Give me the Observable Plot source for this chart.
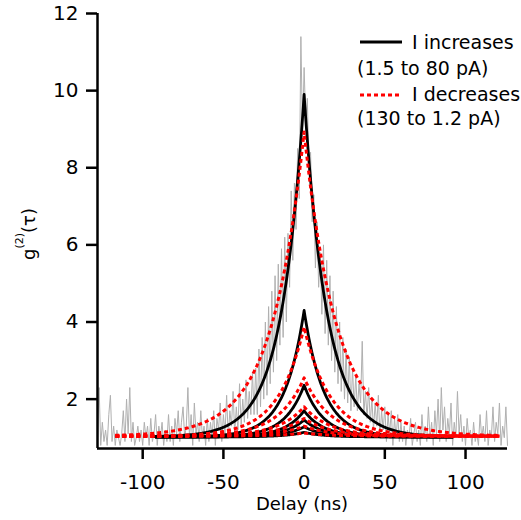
<!DOCTYPE html>
<html>
<head>
<meta charset="utf-8">
<script src="https://cdn.jsdelivr.net/npm/d3@7"></script>
<script src="https://cdn.jsdelivr.net/npm/@observablehq/plot@0.6"></script>
<style>
  html, body { margin: 0; padding: 0; background: white; }
</style>
</head>
<body>
<div id="chart"></div>
<script>
// ---- data ----
const delayStart = -128; // ns, first bin of the raw histogram (1 ns bins)
const grayValues = [
  1.0, 2.3, 0.8, 1.4, 0.9, 1.2, 0.8, 1.6, 2.1, 0.9, 1.3, 0.8, 1.2, 1.0, 0.8, 1.1, 1.7, 0.9, 2.0, 1.1,
  2.3, 0.9, 1.4, 0.8, 1.0, 1.3, 0.9, 1.2, 0.8, 1.4, 1.0, 1.3, 0.8, 1.5, 0.9, 1.1, 1.6, 0.8, 1.3, 1.0,
  1.4, 0.8, 1.2, 0.9, 1.6, 0.9, 1.3, 0.8, 1.5, 1.1, 1.7, 0.9, 1.4, 1.8, 1.0, 1.3, 2.3, 1.0, 1.6, 0.8,
  1.9, 1.1, 1.4, 0.9, 1.7, 1.0, 1.3, 0.8,
  1.5, 0.9, 1.4, 1.0, 1.7, 0.8, 1.5, 1.2, 1.9, 0.9, 1.6, 1.1, 2.1, 1.0, 1.7, 1.3, 2.2, 1.1, 1.8, 1.2,
  2.4, 1.3, 2.0, 1.4, 2.5, 1.5, 2.2, 1.6, 2.7, 1.6,
  2.8, 1.6, 3.3, 1.8, 3.6, 2.0, 4.0, 2.1, 4.4, 2.4, 4.8, 2.7, 5.2, 3.0, 5.5, 3.4, 5.9, 3.6, 6.2, 4.0,
  6.3, 4.9, 7.4, 5.6, 7.6, 6.4, 8.5, 7.2, 11.4, 8.9, 10.6, 9.2, 9.8, 7.9, 8.4, 6.6, 7.3, 5.4, 6.6, 4.9, 5.8,
  4.2, 6.0, 3.7, 5.6, 3.4, 5.2, 3.0, 4.8, 2.7, 4.4, 2.4, 4.0, 2.2, 3.6, 2.0, 3.3, 1.9, 3.1, 1.7, 2.8,
  1.8, 2.6, 1.7, 2.4, 1.9, 3.5, 1.6, 2.2, 1.5, 2.3, 1.4, 2.0, 1.2, 1.9, 1.3, 2.1, 1.0, 1.7, 1.2, 1.8,
  0.9, 1.6, 1.1, 1.7, 0.8, 1.5, 1.0, 1.6, 0.9, 1.4,
  0.9, 1.3, 0.8, 1.2, 1.0, 1.5, 0.8, 1.1, 1.4, 0.9, 1.2, 0.8, 1.6, 1.0, 1.3, 0.9, 1.8, 1.0, 1.4, 0.8,
  1.7, 1.1, 2.0, 0.9, 2.3, 1.2, 1.8, 0.9, 1.5, 1.1, 1.9, 0.8, 1.4, 1.0, 2.2, 1.1, 1.6, 0.9, 1.3, 0.8,
  1.5, 1.0, 1.2, 0.8, 1.4, 0.9, 1.1, 0.8, 1.6, 1.0, 1.3, 0.9, 1.7, 0.8, 1.2, 1.0, 1.8, 0.9, 1.4, 1.1,
  1.9, 0.8, 1.3, 1.0, 1.8, 0.8
];

// fitted curves g2(t) = base + (peak - base) * exp(-|t| / tau)
const blackPeaks = [9.9, 4.3, 2.36, 1.7, 1.46, 1.28, 1.14];
const blackTaus  = [14, 12, 12, 12, 12, 12, 12];
const blackBase  = 1.02;
const blackRange = [-92, 92];

const redPeaks = [8.93, 3.87, 2.55, 1.8, 1.5, 1.3, 1.12];
const redTaus  = [20, 16, 16, 16, 16, 16, 16];
const redBase  = 1.04;
const redRange = [-117, 121];

const xTicks = [-100, -50, 0, 50, 100];
const yTicks = [2, 4, 6, 8, 10, 12];
const xDomain = [-128, 126];
const yDomain = [0.72, 12];

const legendItems = [
  {label: "I increases", sub: "(1.5 to 80 pA)", color: "black", dash: null},
  {label: "I decreases", sub: "(130 to 1.2 pA)", color: "red", dash: "4,3"}
];

// ---- build tables ----
const gray = grayValues.map((v, i) => ({t: delayStart + i, g: v}));

function fitTable(peaks, taus, base, range) {
  const rows = [];
  peaks.forEach((p, k) => {
    for (let t = range[0]; t <= range[1] + 1e-9; t += 0.5) {
      rows.push({id: k, t, g: base + (p - base) * Math.exp(-Math.abs(t) / taus[k])});
    }
  });
  return rows;
}
const blackFits = fitTable(blackPeaks, blackTaus, blackBase, blackRange);
const redFits = fitTable(redPeaks, redTaus, redBase, redRange);

const font = "DejaVu Sans, Verdana, sans-serif";

const chart = Plot.plot({
  width: 521,
  height: 520,
  marginLeft: 97,
  marginRight: 14,
  marginTop: 13,
  marginBottom: 72,
  style: {fontFamily: font, fontSize: "20px", background: "white", color: "black", overflow: "visible"},
  x: {domain: xDomain},
  y: {domain: yDomain},
  marks: [
    Plot.line(gray, {x: "t", y: "g", stroke: "#b0b0b0", strokeWidth: 1}),
    Plot.line(blackFits, {x: "t", y: "g", z: "id", stroke: "black", strokeWidth: 2.8}),
    Plot.line(redFits, {x: "t", y: "g", z: "id", stroke: "#ff0000", strokeWidth: 3, strokeDasharray: "4,3"}),
    Plot.ruleX([xDomain[0]], {stroke: "black", strokeWidth: 2.5}),
    Plot.ruleY([yDomain[0]], {stroke: "black", strokeWidth: 2.5}),
    Plot.axisX(xTicks, {tickSize: 11, tickPadding: 15, strokeWidth: 2.5, tickFormat: d => String(d), label: null, fontSize: 20}),
    Plot.axisY(yTicks, {tickSize: 11, tickPadding: 8, strokeWidth: 2.5, tickFormat: d => String(d), label: null, fontSize: 20})
  ]
});

document.getElementById("chart").appendChild(chart);

const svg = d3.select(chart);

// make sure the red fits are dotted
svg.selectAll("g[stroke='#ff0000']").attr("stroke-dasharray", "4,3")
  .selectAll("path").attr("stroke-dasharray", "4,3").attr("stroke-linecap", "butt");

// x axis label
svg.append("text")
  .attr("x", 302).attr("y", 510)
  .attr("text-anchor", "middle")
  .attr("font-family", font).attr("font-size", 18)
  .attr("fill", "black")
  .text("Delay (ns)");

// y axis label g^(2)(τ)
const yl = svg.append("text")
  .attr("transform", "translate(35,234) rotate(-90)")
  .attr("text-anchor", "middle")
  .attr("font-family", font).attr("font-size", 18)
  .attr("fill", "black");
yl.append("tspan").text("g");
yl.append("tspan").attr("font-size", 11).attr("dy", -12).text("(2)");
yl.append("tspan").attr("dy", 12).text("(τ)");

// legend
const legendRows = [
  {lineY: 42, labelY: 49, subY: 75},
  {lineY: 95, labelY: 101, subY: 125}
];
legendItems.forEach((it, i) => {
  const r = legendRows[i];
  svg.append("line")
    .attr("x1", 360).attr("x2", 402).attr("y1", r.lineY).attr("y2", r.lineY)
    .attr("stroke", it.color).attr("stroke-width", it.dash ? 3 : 2.8)
    .attr("stroke-dasharray", it.dash);
  svg.append("text")
    .attr("x", 412).attr("y", r.labelY)
    .attr("text-anchor", "start")
    .attr("font-family", font).attr("font-size", 19).attr("fill", "black")
    .text(it.label);
  svg.append("text")
    .attr("x", 357).attr("y", r.subY)
    .attr("text-anchor", "start")
    .attr("font-family", font).attr("font-size", 19).attr("fill", "black")
    .text(it.sub);
});
</script>
</body>
</html>
